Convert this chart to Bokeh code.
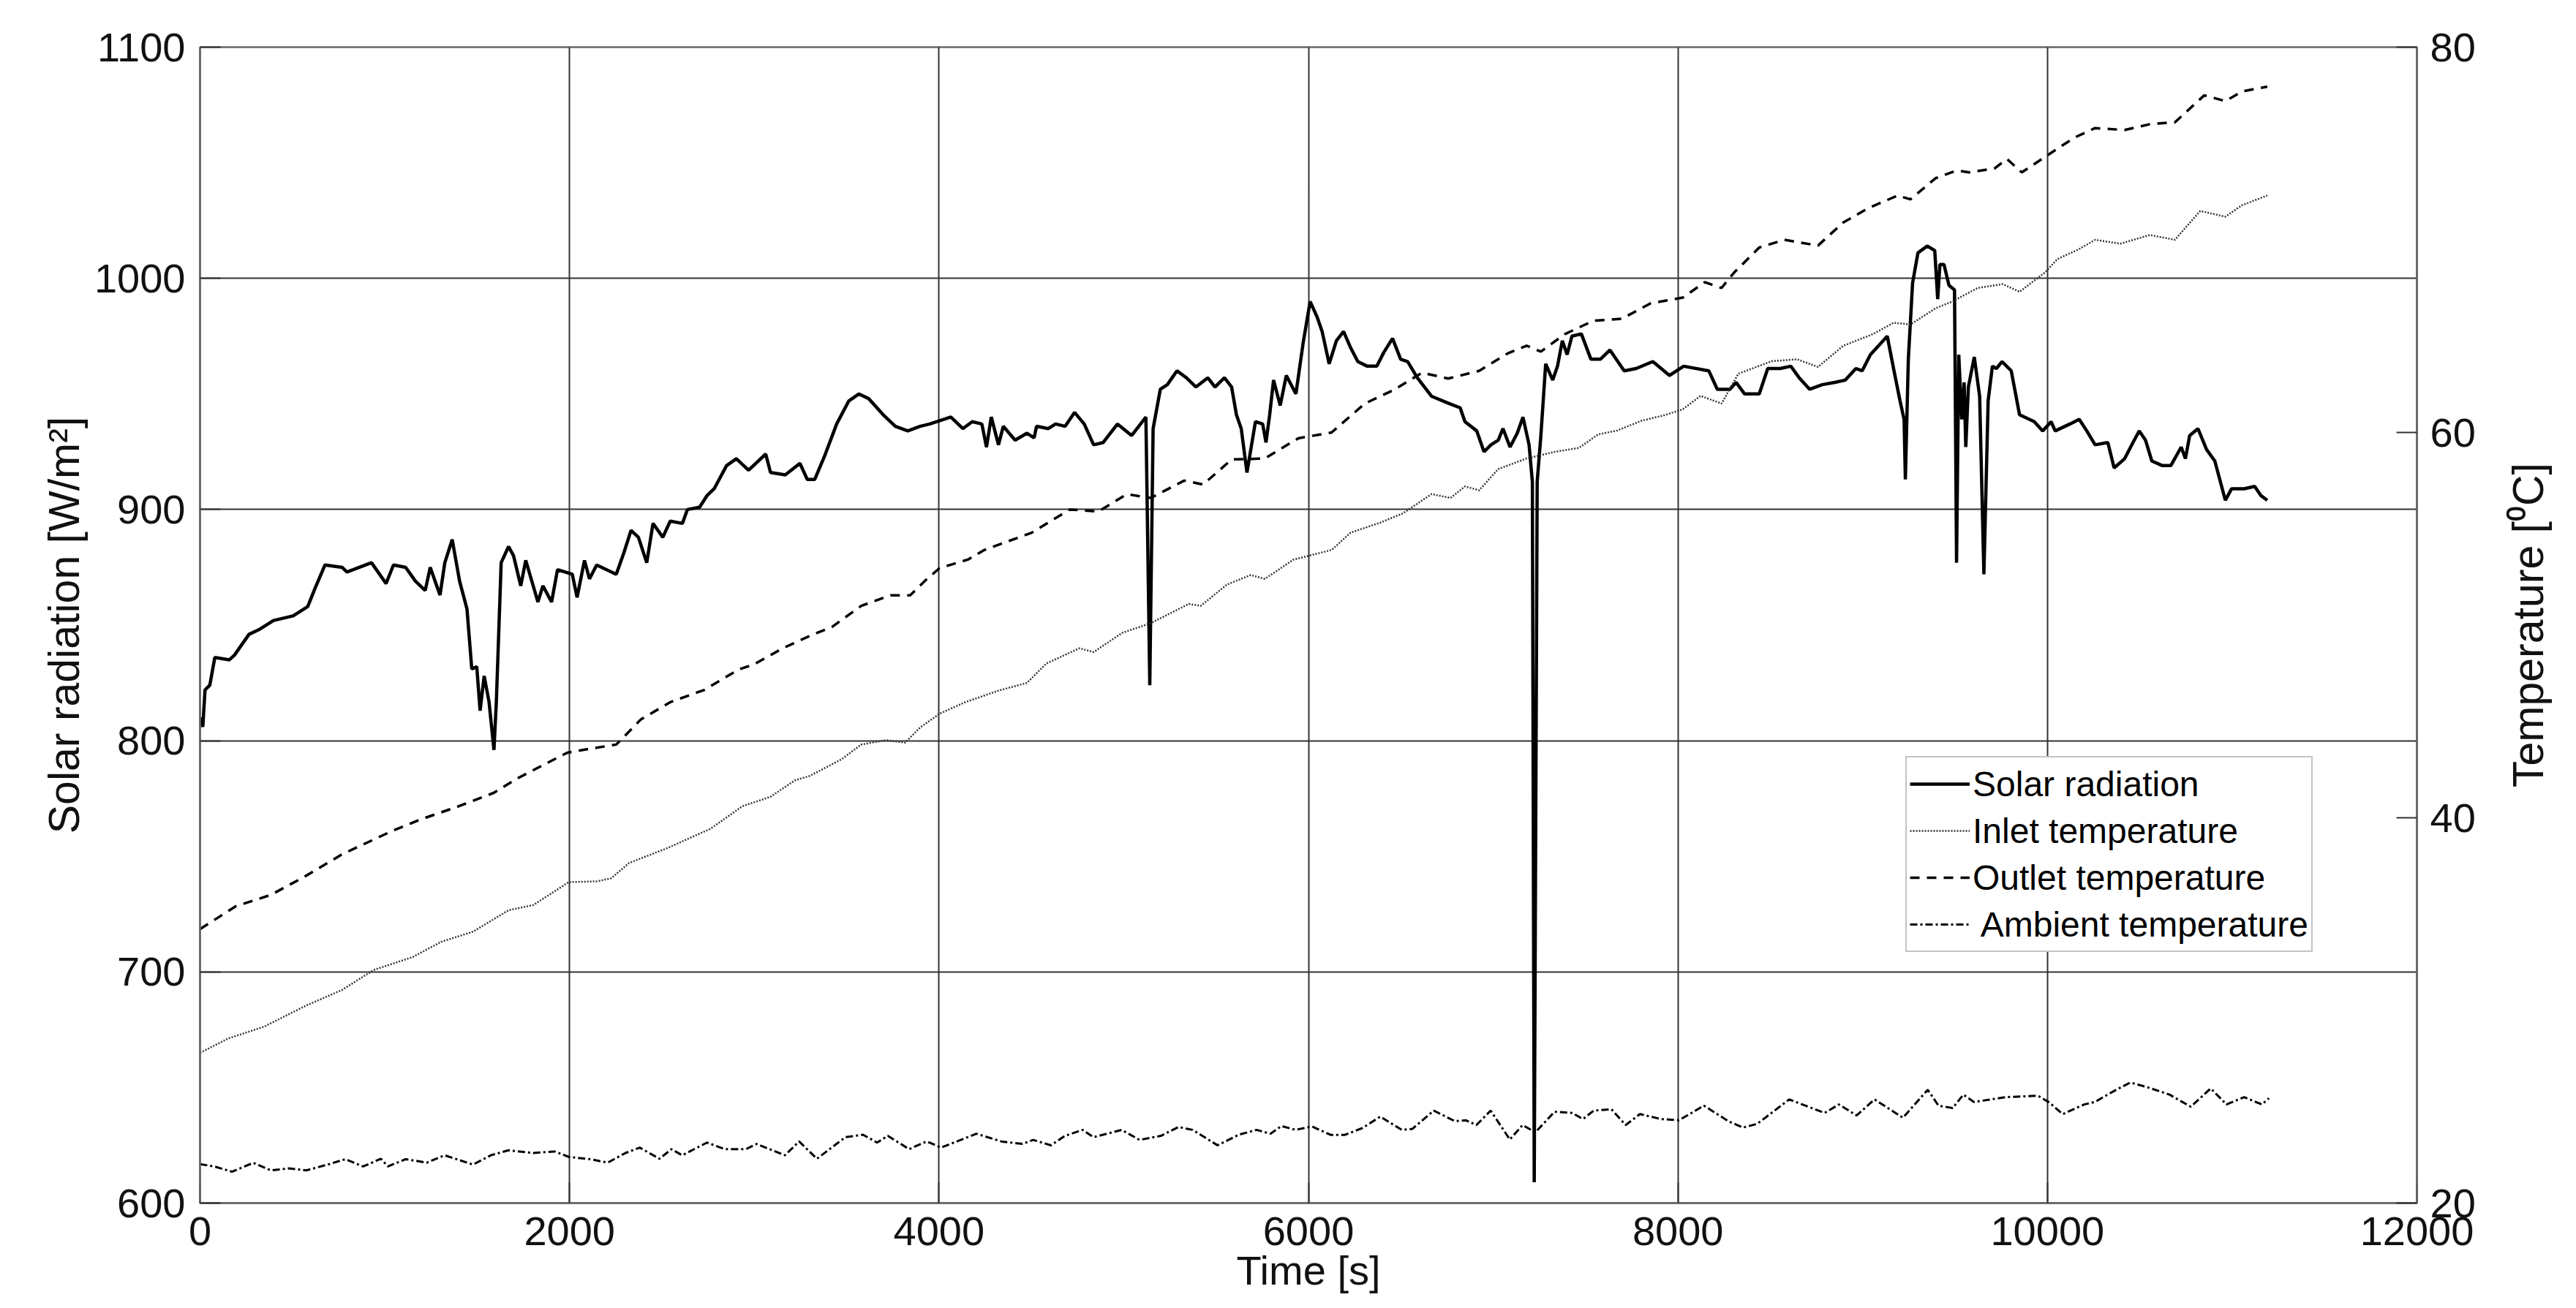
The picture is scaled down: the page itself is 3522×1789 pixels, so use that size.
from bokeh.plotting import figure
from bokeh.models import Range1d, LinearAxis, FixedTicker, Legend, LegendItem
from bokeh.layouts import row
from bokeh.embed import file_html
from bokeh.resources import INLINE

# ---------------- data ----------------
solar_t = [0, 15, 27, 53, 80, 159, 186, 265, 318, 398, 504, 583, 623, 676, 769, 795, 928, 1007,
           1047, 1113, 1166, 1219, 1246, 1299, 1325, 1365, 1405, 1445, 1471, 1498, 1516, 1538, 1564,
           1591, 1604, 1630, 1670, 1697, 1736, 1763, 1829, 1856, 1903, 1935, 2015, 2041, 2081, 2108,
           2147, 2253, 2293, 2333, 2373, 2418, 2452, 2505, 2545, 2611, 2638, 2704, 2744, 2783, 2850,
           2903, 2969, 3062, 3088, 3168, 3247, 3287, 3327, 3380, 3446, 3512, 3566, 3619, 3698, 3764,
           3831, 3897, 3950, 4064, 4129, 4180, 4232, 4257, 4283, 4322, 4348, 4412, 4476, 4515, 4528,
           4592, 4631, 4683, 4734, 4786, 4837, 4889, 4966, 5043, 5120, 5141, 5159, 5198, 5236, 5288,
           5339, 5391, 5455, 5494, 5545, 5584, 5610, 5636, 5667, 5713, 5752, 5770, 5790, 5811, 5847,
           5880, 5932, 5971, 6009, 6048, 6074, 6112, 6151, 6190, 6228, 6267, 6318, 6370, 6408, 6455,
           6499, 6537, 6589, 6666, 6756, 6821, 6847, 6911, 6950, 6988, 7027, 7053, 7091, 7130, 7161,
           7194, 7212, 7222, 7238, 7258, 7284, 7322, 7348, 7374, 7400, 7426, 7477, 7529, 7580, 7632,
           7709, 7774, 7864, 7954, 8031, 8167, 8213, 8281, 8315, 8361, 8440, 8486, 8554, 8611, 8656,
           8713, 8781, 8849, 8906, 8963, 8997, 9042, 9099, 9133, 9167, 9202, 9224, 9231, 9247, 9270,
           9299, 9349, 9390, 9406, 9418, 9440, 9467, 9497, 9508, 9520, 9536, 9549, 9558, 9572, 9604,
           9633, 9656, 9679, 9702, 9724, 9754, 9804, 9849, 9929, 9974, 10020, 10042, 10122, 10172,
           10213, 10258, 10327, 10361, 10418, 10463, 10497, 10531, 10565, 10622, 10668, 10724, 10747,
           10770, 10815, 10861, 10906, 10963, 10997, 11065, 11122, 11156, 11190]
solar_v = [810, 806, 822, 824, 836, 835, 837, 846, 848, 852, 854, 858, 866, 876, 875, 873, 877, 868,
           876, 875, 869, 865, 875, 863, 877, 887, 869, 857, 831, 832, 813, 828, 817,
           796, 817, 877, 884, 880, 867, 878, 860, 867, 860, 874, 872, 862, 878, 870,
           876, 872, 881, 891, 888, 877, 894, 888, 895, 894, 900, 901, 906, 909, 919,
           922, 917, 924, 916, 915, 920, 913, 913, 923, 937, 947, 950, 948, 941, 936,
           934, 936, 937, 940, 935, 938, 937, 927, 940, 928, 936, 930, 933, 931, 936,
           935, 937, 936, 942, 937, 928, 929, 937, 932, 940, 824, 935, 952, 954, 960,
           957, 953, 957, 953, 957, 953, 941, 935, 916, 938, 937, 929, 941, 956, 945,
           958, 950, 972, 990, 983, 977, 963, 973, 977, 970, 964, 962, 962, 968, 974,
           965, 964, 957, 949, 946, 944, 938, 934, 925, 928, 930, 935, 927, 933, 940,
           928, 912, 609, 912, 932, 963, 956, 962, 973, 967, 975, 976, 965, 965, 969,
           960, 961, 964, 958, 962, 960, 952, 952, 955, 950, 950, 961, 961, 962, 957,
           952, 954, 955, 956, 961, 960, 967, 972, 975, 961, 947, 939, 913, 965, 998,
           1011, 1014, 1012, 991, 1006, 1006, 997, 995, 877, 967, 939, 955, 927, 953, 966,
           949, 872, 947, 962, 961, 964, 960, 941, 938, 934, 938, 934, 937, 939,
           934, 928, 929, 918, 922, 929, 934, 930, 921, 919, 919, 927, 922,
           932, 935, 926, 921, 904, 909, 909, 910, 906, 904]

inlet_t = [0, 154, 345, 576, 768, 940, 1151, 1305, 1478, 1670, 1804, 1996, 2149, 2226, 2322, 2533,
           2763, 2936, 3088, 3221, 3300, 3473, 3579, 3711, 3817, 3897, 4003, 4142, 4322, 4476, 4580,
           4760, 4837, 4992, 5146, 5352, 5417, 5558, 5687, 5764, 5919, 6125, 6228, 6383, 6511, 6666,
           6769, 6847, 6924, 7027, 7181, 7335, 7464, 7568, 7671, 7800, 7928, 8026, 8122, 8236, 8327,
           8508, 8645, 8758, 8895, 9054, 9168, 9258, 9395, 9486, 9622, 9758, 9849, 9986, 10054,
           10168, 10258, 10395, 10554, 10690, 10827, 10963, 11054, 11190]
inlet_v = [27.8, 28.55, 29.15, 30.26, 31.06, 32.1, 32.77, 33.56, 34.09, 35.2, 35.47, 36.66, 36.7,
           36.86, 37.65, 38.44, 39.43, 40.6, 41.09, 41.95, 42.17, 43.04, 43.8, 44.03, 43.9, 44.68,
           45.4, 46.0, 46.6, 47.0, 48.0, 48.8, 48.6, 49.6, 50.1, 51.1, 51.0, 52.1, 52.6, 52.4, 53.4,
           53.9, 54.8, 55.3, 55.8, 56.8, 56.6, 57.2, 57.0, 58.1, 58.65, 59.0, 59.2, 59.9, 60.1, 60.6,
           60.9, 61.2, 61.9, 61.5, 63.05, 63.7, 63.8, 63.4, 64.5, 65.1, 65.7, 65.6, 66.45, 66.8,
           67.5, 67.7, 67.3, 68.3, 69.0, 69.5, 70.0, 69.8, 70.25, 70.0, 71.5, 71.2, 71.8, 72.3]

outlet_t = [0, 192, 384, 576, 768, 1036, 1190, 1401, 1591, 1723, 1856, 1988, 2121, 2253, 2386,
            2545, 2730, 2916, 2996, 3155, 3314, 3420, 3579, 3738, 3844, 3924, 4003, 4156, 4245,
            4502, 4708, 4863, 5017, 5146, 5327, 5430, 5584, 5764, 5945, 6125, 6305, 6460, 6615,
            6756, 6924, 7078, 7181, 7258, 7387, 7542, 7696, 7851, 8026, 8145, 8236, 8304, 8440,
            8577, 8758, 8895, 9031, 9190, 9258, 9395, 9508, 9576, 9713, 9781, 9861, 9986, 10145,
            10258, 10418, 10554, 10690, 10849, 10963, 11054, 11190]
outlet_v = [34.22, 35.4, 36.0, 37.0, 38.1, 39.3, 39.9, 40.6, 41.3, 42.07, 42.73, 43.38, 43.6, 43.8,
            45.1, 46.0, 46.64, 47.7, 47.95, 48.8, 49.5, 49.9, 51.0, 51.55, 51.55, 52.3, 52.96, 53.4,
            53.9, 54.8, 56.0, 55.9, 56.8, 56.6, 57.5, 57.3, 58.6, 58.65, 59.7, 60.0, 61.5, 62.2,
            63.1, 62.8, 63.2, 64.1, 64.5, 64.2, 65.1, 65.8, 65.9, 66.7, 67.0, 67.8, 67.5, 68.3,
            69.6, 70.0, 69.7, 70.9, 71.65, 72.3, 72.1, 73.2, 73.6, 73.5, 73.7, 74.2, 73.5, 74.3,
            75.3, 75.8, 75.7, 76.0, 76.1, 77.5, 77.2, 77.7, 77.95]

ambient_t = [0, 77, 173, 288, 384, 480, 576, 691, 787, 883, 979, 1017, 1113, 1228, 1324, 1478,
             1574, 1670, 1804, 1919, 1996, 2111, 2207, 2303, 2380, 2487, 2552, 2610, 2744, 2840,
             2955, 3013, 3166, 3243, 3339, 3493, 3589, 3665, 3723, 3838, 3934, 4011, 4203, 4337,
             4452, 4510, 4606, 4682, 4778, 4836, 4989, 5085, 5201, 5296, 5373, 5508, 5623, 5719,
             5795, 5853, 5930, 6018, 6120, 6197, 6293, 6389, 6505, 6562, 6678, 6793, 6851, 6909,
             6986, 7090, 7159, 7228, 7332, 7428, 7486, 7544, 7640, 7717, 7794, 7909, 8005, 8063,
             8140, 8275, 8352, 8429, 8602, 8794, 8871, 8967, 9064, 9218, 9352, 9410, 9487, 9545,
             9602, 9776, 9949, 10006, 10083, 10199, 10257, 10372, 10449, 10545, 10661, 10776,
             10884, 10969, 11065, 11161, 11199]
ambient_v = [22.02, 21.9, 21.63, 22.09, 21.7, 21.8, 21.7, 22.0, 22.28, 21.9, 22.3, 21.9, 22.28,
             22.1, 22.48, 22.0, 22.48, 22.74, 22.6, 22.68, 22.4, 22.28, 22.1, 22.6, 22.88, 22.3,
             22.8, 22.48, 23.14, 22.8, 22.8, 23.07, 22.48, 23.2, 22.3, 23.42, 23.55, 23.14, 23.49,
             22.8, 23.2, 22.88, 23.6, 23.2, 23.07, 23.28, 23.0, 23.49, 23.8, 23.42, 23.8, 23.28,
             23.49, 23.95, 23.8, 23.0, 23.55, 23.8, 23.6, 24.0, 23.8, 23.98, 23.54, 23.54, 23.9,
             24.49, 23.8, 23.85, 24.8, 24.25, 24.3, 24.05, 24.8, 23.3, 24.05, 23.67, 24.74, 24.68,
             24.36, 24.8, 24.87, 24.05, 24.62, 24.36, 24.3, 24.62, 25.06, 24.24, 23.92, 24.11,
             25.38, 24.68, 25.12, 24.55, 25.38, 24.43, 25.88, 25.06, 24.93, 25.63, 25.25, 25.5,
             25.57, 25.25, 24.62, 25.12, 25.25, 25.88, 26.26, 26.0, 25.63, 25.0, 25.95, 25.12,
             25.5, 25.12, 25.44]

x_ticks = [0, 2000, 4000, 6000, 8000, 10000, 12000]
y_ticks = [600, 700, 800, 900, 1000, 1100]
t_ticks = [20, 40, 60, 80]

FONT = "Liberation Sans"
TICK_PX = "56px"
LABEL_PX = "59px"

p = figure(width=3420, height=1789, output_backend="svg", toolbar_location=None,
           x_range=Range1d(0, 12000), y_range=Range1d(600, 1100),
           min_border_left=273, min_border_right=116, min_border_top=64, min_border_bottom=144)
p.extra_y_ranges = {"temp": Range1d(20, 80)}
p.background_fill_color = "white"
p.border_fill_color = "white"
p.outline_line_color = "#666666"
p.outline_line_width = 2.5

# grid
p.xgrid.ticker = FixedTicker(ticks=x_ticks)
p.ygrid.ticker = FixedTicker(ticks=y_ticks)
for g in (p.xgrid, p.ygrid):
    g.grid_line_color = "#333333"
    g.grid_line_width = 2

# axes
p.xaxis.ticker = FixedTicker(ticks=x_ticks)
p.yaxis.ticker = FixedTicker(ticks=y_ticks)
p.xaxis.axis_label = "Time [s]"
p.yaxis.axis_label = "Solar radiation [W/m\u00b2]"
right = LinearAxis(y_range_name="temp", ticker=FixedTicker(ticks=t_ticks))
p.add_layout(right, "right")

for ax in (p.xaxis[0], p.yaxis[0], right):
    ax.major_label_text_font = FONT
    ax.major_label_text_font_size = TICK_PX
    ax.major_label_text_color = "#111111"
    ax.axis_label_text_font = FONT
    ax.axis_label_text_font_size = LABEL_PX
    ax.axis_label_text_font_style = "normal"
    ax.axis_label_text_color = "#111111"
    ax.axis_line_color = "#666666"
    ax.axis_line_width = 2.5
    ax.major_tick_in = 28
    ax.major_tick_out = 0
    ax.major_tick_line_color = "#333333"
    ax.major_tick_line_width = 2
    ax.minor_tick_line_color = None
p.xaxis.axis_label_text_font_size = TICK_PX
p.xaxis.major_label_standoff = 19
p.xaxis.axis_label_standoff = 0
p.yaxis.major_label_standoff = 20
p.yaxis.axis_label_standoff = 5
right.major_label_standoff = 18

# lines
r_solar = p.line(solar_t, solar_v, line_color="black", line_width=4.5)
r_inlet = p.line(inlet_t, inlet_v, y_range_name="temp", line_color="#333333",
                 line_width=2.5, line_dash="2 2")
r_outlet = p.line(outlet_t, outlet_v, y_range_name="temp", line_color="black",
                  line_width=3.5, line_dash="13 10")
r_amb = p.line(ambient_t, ambient_v, y_range_name="temp", line_color="black",
               line_width=3, line_dash="10 4 3 4")

legend = Legend(items=[
    LegendItem(label="Solar radiation", renderers=[r_solar]),
    LegendItem(label="Inlet temperature", renderers=[r_inlet]),
    LegendItem(label="Outlet temperature", renderers=[r_outlet]),
    LegendItem(label=" Ambient temperature", renderers=[r_amb]),
], location=(2332, 343))
legend.label_text_font = FONT
legend.label_text_font_size = "48px"
legend.label_text_color = "black"
legend.glyph_width = 82
legend.glyph_height = 40
legend.label_height = 64
legend.label_standoff = 4
legend.spacing = 0
legend.padding = 4
legend.margin = 0
legend.border_line_color = "#888888"
legend.border_line_width = 2.5
legend.background_fill_color = "white"
legend.background_fill_alpha = 1.0
p.add_layout(legend, "center")

# narrow companion panel that carries the right-hand axis title (reads bottom-to-top)
q = figure(width=102, height=1789, output_backend="svg", toolbar_location=None,
           x_range=Range1d(0, 1), y_range=Range1d(20, 80),
           min_border_left=90, min_border_right=2, min_border_top=64, min_border_bottom=144)
q.outline_line_color = None
q.background_fill_color = "white"
q.border_fill_color = "white"
q.xaxis.visible = False
q.xgrid.visible = False
q.ygrid.visible = False
q.yaxis.ticker = FixedTicker(ticks=[])
q.yaxis.axis_label = "Temperature [\u2070C]"
q.yaxis.axis_label_text_font = FONT
q.yaxis.axis_label_text_font_size = LABEL_PX
q.yaxis.axis_label_text_font_style = "normal"
q.yaxis.axis_label_text_color = "#111111"
q.yaxis.axis_label_standoff = 25
q.yaxis.axis_line_color = None
q.yaxis.major_tick_line_color = None
q.yaxis.minor_tick_line_color = None
q.yaxis.major_tick_out = 0
q.yaxis.major_label_standoff = 0
q.line([0.5, 0.5], [20, 20], line_alpha=0)

layout = row(p, q, spacing=0)
open("out.html", "w").write(file_html(layout, INLINE))
